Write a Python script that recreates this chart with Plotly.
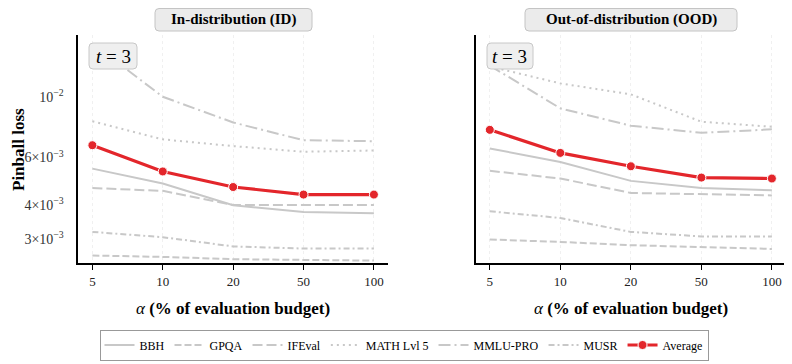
import plotly.graph_objects as go

# alpha (% of evaluation budget), evenly spaced categories
alphas = ["5", "10", "20", "50", "100"]
benchmarks = ["BBH", "GPQA", "IFEval", "MATH Lvl 5", "MMLU-PRO", "MUSR"]

# In-distribution pinball loss
id_bbh = [0.00546, 0.00481, 0.00400, 0.00378, 0.00374]
id_gpqa = [0.00261, 0.00258, 0.00253, 0.00252, 0.00250]
id_ifeval = [0.00463, 0.00452, 0.00401, 0.00401, 0.00401]
id_math = [0.00817, 0.00700, 0.00661, 0.00630, 0.00637]
id_mmlu = [0.0158, 0.01005, 0.00808, 0.00695, 0.00689]
id_musr = [0.00319, 0.00305, 0.00282, 0.00277, 0.00277]
id_avg = [0.00666, 0.00533, 0.00467, 0.00438, 0.00438]

# Out-of-distribution pinball loss
ood_bbh = [0.00648, 0.00578, 0.00492, 0.00463, 0.00454]
ood_gpqa = [0.00299, 0.00293, 0.00285, 0.00280, 0.00276]
ood_ifeval = [0.00536, 0.00502, 0.00444, 0.00439, 0.00435]
ood_math = [0.0130, 0.01126, 0.01026, 0.00813, 0.00779]
ood_mmlu = [0.0131, 0.00911, 0.00786, 0.00740, 0.00762]
ood_musr = [0.00380, 0.00359, 0.00319, 0.00307, 0.00307]
ood_avg = [0.00759, 0.00624, 0.00557, 0.00506, 0.00502]

ytick_vals = [0.003, 0.004, 0.006, 0.01]
ytick_text = ["3×10<sup>−3</sup>", "4×10<sup>−3</sup>", "6×10<sup>−3</sup>", "10<sup>−2</sup>"]

FONT = "Liberation Serif"
GRAY = "#c8c8c8"
RED = "#e3262b"
dashes = {
    "BBH": "solid",
    "GPQA": "7px,3px",
    "IFEval": "10px,4px",
    "MATH Lvl 5": "2px,4px",
    "MMLU-PRO": "12px,4px,2px,4px",
    "MUSR": "6px,3px,2px,3px",
}

# the page body has an 8px margin, so the figure is drawn 8px smaller and
# positions below are given in window pixels
W, H, OFF = 784, 356, 8


def fx(px):
    return (px - OFF) / W


def fy(py):
    return 1 - (py - OFF) / H


def rounded_box(x0, y0, x1, y1, r=4):
    # rounded rectangle path in paper coords from window pixels
    pts = [
        f"M{fx(x0 + r)},{fy(y0)}", f"L{fx(x1 - r)},{fy(y0)}",
        f"Q{fx(x1)},{fy(y0)} {fx(x1)},{fy(y0 + r)}", f"L{fx(x1)},{fy(y1 - r)}",
        f"Q{fx(x1)},{fy(y1)} {fx(x1 - r)},{fy(y1)}", f"L{fx(x0 + r)},{fy(y1)}",
        f"Q{fx(x0)},{fy(y1)} {fx(x0)},{fy(y1 - r)}", f"L{fx(x0)},{fy(y0 + r)}",
        f"Q{fx(x0)},{fy(y0)} {fx(x0 + r)},{fy(y0)}", "Z",
    ]
    return " ".join(pts)


panels = [
    ("x", "y", [id_bbh, id_gpqa, id_ifeval, id_math, id_mmlu, id_musr], id_avg, True),
    ("x2", "y2", [ood_bbh, ood_gpqa, ood_ifeval, ood_math, ood_mmlu, ood_musr], ood_avg, False),
]

fig = go.Figure()
for xa, ya, series, avg, show in panels:
    for name, vals in zip(benchmarks, series):
        fig.add_trace(go.Scatter(
            x=alphas, y=vals, name=name, mode="lines", xaxis=xa, yaxis=ya,
            line=dict(color=GRAY, width=2, dash=dashes[name]),
            legendgroup=name, showlegend=show,
        ))
    fig.add_trace(go.Scatter(
        x=alphas, y=avg, name="Average", mode="lines+markers", xaxis=xa, yaxis=ya,
        line=dict(color=RED, width=3.2),
        marker=dict(color=RED, size=9, line=dict(color="white", width=1)),
        legendgroup="Average", showlegend=show,
    ))

yrange = [-2.612, -1.770]
xdom1 = [fx(78.3), fx(388)]
xdom2 = [fx(475.7), fx(786)]
ydom = [fy(263.3), fy(35)]

xcommon = dict(
    type="category", range=[-0.2, 4.2], showline=True, linecolor="black", linewidth=1.5,
    ticks="outside", ticklen=5, tickcolor="black", tickwidth=1, automargin=False,
    showgrid=True, gridcolor="#f0f0f0", griddash="dot", gridwidth=1,
    tickfont=dict(family=FONT, size=13, color="#222"), zeroline=False,
)
ycommon = dict(
    type="log", range=yrange, showline=True, linecolor="black", linewidth=1.5,
    ticks="", showgrid=False, zeroline=False, automargin=False,
    tickvals=ytick_vals, ticktext=ytick_text,
    tickfont=dict(family=FONT, size=14, color="#333"), ticklabelstandoff=10,
)

fig.update_layout(
    width=W, height=H,
    margin=dict(l=0, r=0, t=0, b=0, autoexpand=False),
    paper_bgcolor="white", plot_bgcolor="white",
    font=dict(family=FONT, color="black"),
    xaxis=dict(domain=xdom1, anchor="y", **xcommon),
    xaxis2=dict(domain=xdom2, anchor="y2", **xcommon),
    yaxis=dict(domain=ydom, anchor="x", **ycommon),
    yaxis2=dict(domain=ydom, anchor="x2", showticklabels=False, **ycommon),
    legend=dict(
        orientation="h", x=fx(404), xanchor="center", y=fy(345), yanchor="middle",
        bordercolor="#999999", borderwidth=1, font=dict(family=FONT, size=12),
        itemwidth=30, tracegroupgap=0,
    ),
)

# tick mark and faint grid line at 10^-2 for both panels
for yref, dom in [("y", xdom1), ("y2", xdom2)]:
    fig.add_shape(type="line", xref="paper", yref=yref, x0=dom[0] - 6 / W, x1=dom[0],
                  y0=-2, y1=-2, line=dict(color="black", width=1))
    fig.add_shape(type="line", xref="paper", yref=yref, x0=dom[0], x1=dom[1],
                  y0=-2, y1=-2, line=dict(color="#f0f0f0", width=1, dash="dot"), layer="below")

# panel titles in rounded boxes
for text, (bx0, bx1) in [("<b>In-distribution (ID)</b>", (155, 312)),
                         ("<b>Out-of-distribution (OOD)</b>", (525, 737))]:
    fig.add_shape(type="path", xref="paper", yref="paper", path=rounded_box(bx0, 8.5, bx1, 31),
                  fillcolor="#ebebeb", line=dict(color="#c4c4c4", width=1))
    fig.add_annotation(text=text, x=fx((bx0 + bx1) / 2), y=fy(20), xref="paper", yref="paper",
                       xanchor="center", yanchor="middle", showarrow=False,
                       font=dict(family=FONT, size=15, color="black"))

# t = 3 boxes
for bx0, bx1 in [(89, 137), (487, 533)]:
    fig.add_shape(type="path", xref="paper", yref="paper", path=rounded_box(bx0, 43, bx1, 69),
                  fillcolor="#efefef", line=dict(color="#c8c8c8", width=1))
    fig.add_annotation(text="<i>t</i> = 3", x=fx((bx0 + bx1) / 2), y=fy(56),
                       xref="paper", yref="paper", xanchor="center", yanchor="middle",
                       showarrow=False, font=dict(family=FONT, size=19, color="black"))

# axis titles
for xc in [sum(xdom1) / 2, sum(xdom2) / 2]:
    fig.add_annotation(text="<i>α</i> <b>(% of evaluation budget)</b>", x=xc, y=fy(308),
                       xref="paper", yref="paper", showarrow=False,
                       xanchor="center", yanchor="middle",
                       font=dict(family=FONT, size=17, color="black"))
fig.add_annotation(text="<b>Pinball loss</b>", x=fx(18), y=fy(150), xref="paper",
                   yref="paper", showarrow=False, textangle=-90,
                   xanchor="center", yanchor="middle",
                   font=dict(family=FONT, size=17, color="black"))

fig.write_html("out.html")
